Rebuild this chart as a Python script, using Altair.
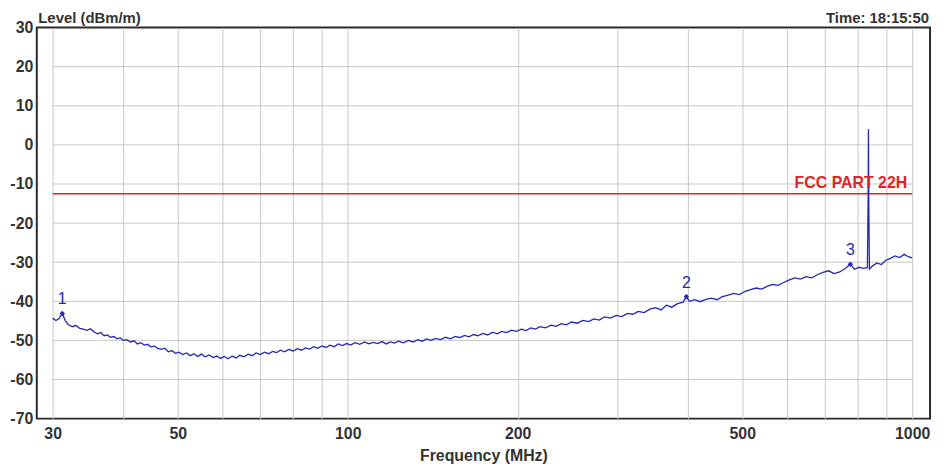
import altair as alt
import pandas as pd

# ---- data ----
freq = [
    30, 30.4, 30.8, 31.2, 31.6, 32, 32.5, 33, 33.5, 34, 34.5, 35, 35.5, 36, 36.5, 37, 37.5, 38, 38.5, 39, 39.5, 40,
    40.6, 41.2, 41.8, 42.4, 43, 43.6, 44.2, 44.8, 45.4, 46, 46.7, 47.4, 48.1, 48.8, 49.5, 50.2, 51, 51.8, 52.6, 53.4,
    54.2, 55, 55.9, 56.8, 57.7, 58.6, 59.5, 60.4,
    61.4, 62.4, 63.4, 64.4, 65.5, 66.6, 67.7, 68.8, 70, 71.2, 72.4, 73.6, 74.8, 76, 77.3, 78.6, 80, 81.4, 82.8, 84.2,
    85.6, 87, 88.5, 90, 91.5, 93, 94.6, 96.2, 97.8, 99.5,
    101.2, 103, 105, 107, 109, 111, 113, 115, 117, 119, 121, 123, 125.5, 128, 130.5, 133, 135.5, 138, 140.5, 143,
    146, 149, 152, 155, 158, 161, 164, 167, 170, 173.5, 177, 180.5, 184, 187.5, 191, 195, 199,
    203, 207, 211, 215, 219, 224, 229, 234, 239, 244, 249, 255, 261, 267, 273, 279, 285, 292, 299, 306,
    313, 320, 327, 335, 343, 351, 359, 367, 375, 384, 393,
    398, 403, 412, 421, 431, 441, 451, 461, 472, 483, 494, 505, 517, 529, 541, 553, 566, 579, 592, 606,
    620, 634, 649, 664, 679, 695, 711, 727, 744, 761, 777, 790, 805, 820, 833,
    835.5, 836.6, 837.7, 840, 850, 866, 882, 898, 915, 932, 950, 968, 984, 1000,
]
level = [
    -44.3, -44.9, -44.4, -43.1, -45.0, -46.0, -46.5, -46.2, -46.9, -47.1, -47.4, -47.0, -47.8, -48.3, -48.0, -48.8,
    -48.6, -49.2, -49.0, -49.6, -49.3, -50.0,
    -49.8, -50.4, -50.1, -50.9, -50.6, -51.2, -51.0, -51.7, -51.4, -52.0, -52.3, -52.0, -52.9, -52.6, -53.3, -53.0,
    -53.6, -53.2, -53.9, -53.4, -54.1, -53.5, -54.2, -53.7, -54.4, -54.0, -54.6, -54.1,
    -54.7, -54.0, -54.5, -53.8, -54.2, -53.5, -53.9, -53.2, -53.6, -53.0, -53.4, -52.8, -53.1, -52.5, -52.9, -52.3,
    -52.7, -52.1, -52.5, -51.9, -52.2, -51.6, -52.0, -51.4, -51.8, -51.2, -51.6, -50.9, -51.3, -50.8,
    -51.2, -50.6, -51.0, -50.4, -50.9, -50.5, -50.8, -50.3, -50.9, -50.4, -50.7, -50.2, -50.6, -50.0, -50.4, -49.8,
    -50.2, -49.6, -50.0, -49.5, -49.8, -49.2, -49.6, -49.0, -49.3, -48.7, -49.1, -48.5, -48.8, -48.2, -48.6, -47.9,
    -48.3, -47.7, -48.0, -47.4, -47.7,
    -47.1, -47.5, -46.8, -47.1, -46.5, -46.8, -46.1, -46.4, -45.7, -46.0, -45.3, -45.6, -44.9, -45.2, -44.5, -44.8,
    -44.0, -44.3, -43.6, -43.9, -43.1, -43.3, -42.6, -42.9, -42.0, -41.6, -42.2, -41.0, -41.5, -40.6, -40.2,
    -38.8, -40.0, -39.6, -40.1, -39.5, -39.2, -39.6, -38.8, -38.4, -38.0, -38.3, -37.5, -37.0, -36.6, -36.9, -36.2,
    -35.7, -35.9, -35.2, -34.5, -34.0, -34.3, -33.7, -34.0, -33.2, -32.6, -32.2, -32.9, -32.5, -31.6, -30.5, -31.8,
    -31.3, -31.6, -31.4,
    -14.0, 4.0, -14.0, -31.8, -31.0, -30.2, -30.6, -29.5, -29.0, -28.4, -28.8, -28.0, -28.6, -28.9,
]
marker_freq = [31.2, 398, 777]
marker_level = [-43.1, -38.8, -30.5]
marker_label = ["1", "2", "3"]

limit_level = -12.5
limit_label = "FCC PART 22H"
freq_range = [30, 1000]

x_grid = [30, 40, 50, 60, 70, 80, 90, 100, 200, 300, 400, 500, 600, 700, 800, 900, 1000]
x_labels = [30, 50, 100, 200, 500, 1000]
y_ticks = [-70, -60, -50, -40, -30, -20, -10, 0, 10, 20, 30]
y_grid = [-60, -50, -40, -30, -20, -10, 0, 10, 20]

time_text = "Time: 18:15:50"

# ---- styling ----
FONT = "Liberation Sans"
TXT = "#333333"
GRID = "#c8c8c8"
BLUE = "#2626b2"
RED = "#e02424"

trace = pd.DataFrame({"f": freq, "lvl": level})
markers = pd.DataFrame({"f": marker_freq, "lvl": marker_level, "lab": marker_label})
hgrid = pd.DataFrame({"lvl": y_grid, "f": freq_range[0], "f2": freq_range[1]})
limit = pd.DataFrame({"lvl": [limit_level], "f": [freq_range[0]], "f2": [freq_range[1]], "lab": [limit_label]})
one = pd.DataFrame({"t": [time_text]})

xscale = alt.Scale(type="log", domain=[28.12, 1075.6], nice=False)
yscale = alt.Scale(domain=[-70, 30], nice=False)

label_list = ",".join(str(v) for v in x_labels)
xaxis = alt.Axis(
    values=x_grid, grid=True, gridColor=GRID, gridWidth=1, domain=False, ticks=False,
    labelExpr=f"indexof([{label_list}], datum.value) >= 0 ? '' + datum.value : ''",
    labelOverlap=False, labelFlush=False, labelPadding=7, labelFont=FONT, labelFontSize=16,
    labelFontWeight="bold", labelColor=TXT,
    title="Frequency (MHz)", titleFont=FONT, titleFontSize=16, titleFontWeight="bold", titleColor=TXT,
    titleBaseline="top", titleY=29,
)
yaxis = alt.Axis(
    values=y_ticks, grid=False, domain=False, ticks=False, labelPadding=4,
    labelExpr="datum.value < 0 ? '-' + abs(datum.value) : '' + datum.value",
    labelFont=FONT, labelFontSize=16, labelFontWeight="bold", labelColor=TXT,
    title="Level (dBm/m)", titleAngle=0, titleAlign="left", titleBaseline="middle",
    titleX=1, titleY=-10, titleFont=FONT, titleFontSize=15, titleFontWeight="bold", titleColor=TXT,
)

def X(field):
    return alt.X(f"{field}:Q", scale=xscale, axis=xaxis)

def Y(field):
    return alt.Y(f"{field}:Q", scale=yscale, axis=yaxis)

grid_layer = alt.Chart(hgrid).mark_rule(color=GRID, strokeWidth=1).encode(
    x=X("f"), x2="f2:Q", y=Y("lvl")
)
limit_layer = alt.Chart(limit).mark_rule(color=RED, strokeWidth=1.5).encode(
    x=X("f"), x2="f2:Q", y=Y("lvl")
)
limit_text = alt.Chart(limit).mark_text(
    align="right", baseline="bottom", dx=-5, dy=-3, font=FONT, fontSize=16, fontWeight="bold", color=RED
).encode(x=alt.X("f2:Q", scale=xscale, axis=xaxis), y=Y("lvl"), text="lab:N")
line_layer = alt.Chart(trace).mark_line(color=BLUE, strokeWidth=1.3).encode(
    x=X("f"), y=Y("lvl")
)
marker_layer = alt.Chart(markers).mark_point(shape="diamond", filled=True, size=30, color=BLUE, opacity=1).encode(
    x=X("f"), y=Y("lvl")
)
marker_text = alt.Chart(markers).mark_text(
    dy=-14, font=FONT, fontSize=16, color=BLUE, baseline="middle"
).encode(x=X("f"), y=Y("lvl"), text="lab:N")
time_layer = alt.Chart(one).mark_text(
    align="right", baseline="middle", font=FONT, fontSize=15, fontWeight="bold", color=TXT
).encode(x=alt.value(899), y=alt.value(-10), text="t:N")

chart = alt.layer(
    grid_layer, limit_layer, line_layer, marker_layer, marker_text, limit_text, time_layer
).properties(
    width=900, height=394,
    padding={"left": 29, "top": 18, "right": 6, "bottom": 44},
    autosize=alt.AutoSizeParams(type="none"),
    background="white",
).configure_view(stroke="#2a2a2a", strokeWidth=2)

chart.save("out.html", embed_options={"renderer": "svg", "actions": False})
